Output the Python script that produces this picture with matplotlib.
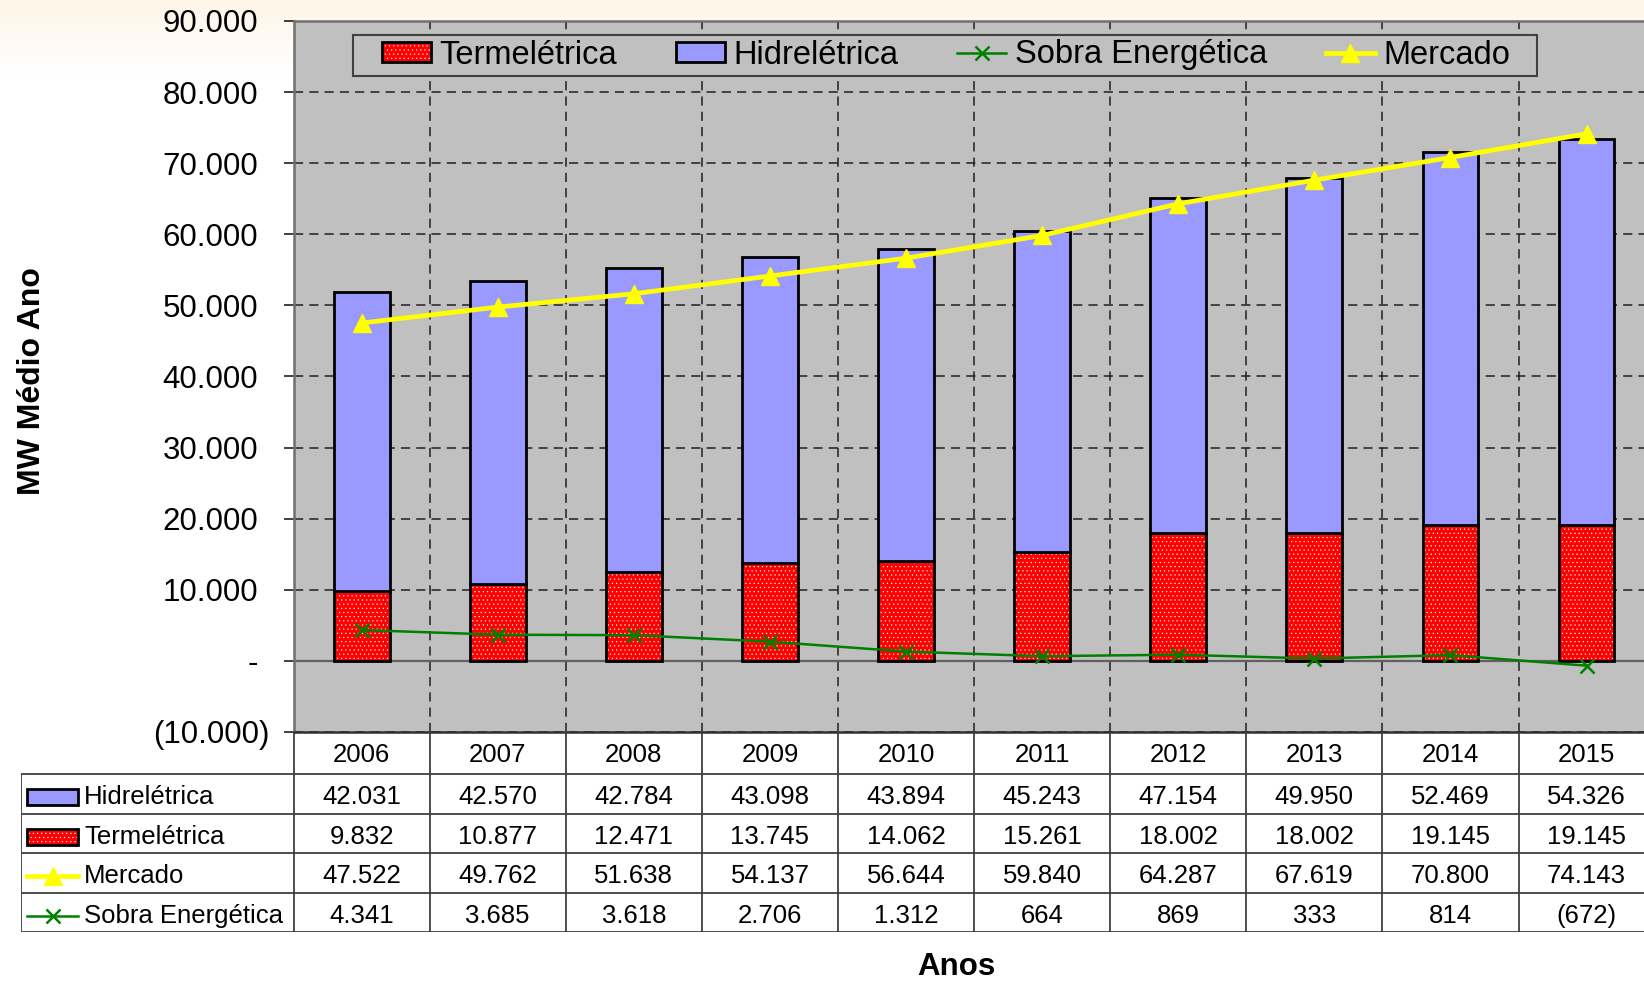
import numpy as np
import matplotlib
matplotlib.use("Agg")
import matplotlib.pyplot as plt
from matplotlib.patches import Patch, Rectangle
from matplotlib.lines import Line2D
from matplotlib.legend_handler import HandlerTuple
import matplotlib.transforms as mtransforms

plt.rcParams['font.family'] = ['Liberation Sans', 'DejaVu Sans']
plt.rcParams['hatch.linewidth'] = 0.35

# ---------------- data ----------------
years = ['2006', '2007', '2008', '2009', '2010', '2011', '2012', '2013', '2014', '2015']
hidreletrica = [42031, 42570, 42784, 43098, 43894, 45243, 47154, 49950, 52469, 54326]
termeletrica = [9832, 10877, 12471, 13745, 14062, 15261, 18002, 18002, 19145, 19145]
mercado = [47522, 49762, 51638, 54137, 56644, 59840, 64287, 67619, 70800, 74143]
sobra = [4341, 3685, 3618, 2706, 1312, 664, 869, 333, 814, -672]
yticks = [-10000, 0, 10000, 20000, 30000, 40000, 50000, 60000, 70000, 80000, 90000]

C_HID = '#9999FF'
C_TER = '#FF0000'
C_MER = '#FFFF00'
C_SOB = '#008000'
C_BG = '#C0C0C0'
C_LINE = '#404040'
HATCH = '....'


def fmt(v):
    if v == 0:
        return '-'
    s = f"{abs(v):,}".replace(',', '.')
    return f"({s})" if v < 0 else s


W, H = 1644, 984
fig = plt.figure(figsize=(W / 100, H / 100), dpi=100)
fig.patch.set_facecolor('white')

# background gradient (cream at top fading to white)
bgax = fig.add_axes([0, 0, 1, 1], zorder=-10)
rows = np.arange(H)
t = np.clip(rows / 75.0, 0, 1)[:, None]
top = np.array([254, 245, 232]) / 255.0
grad = top[None, None, :] * (1 - t[..., None]) + np.ones(3)[None, None, :] * t[..., None]
grad = np.repeat(grad, 4, axis=1)
bgax.imshow(grad, aspect='auto', extent=[0, 1, 0, 1], origin='upper')
bgax.axis('off')

# ---------------- main axes ----------------
px_left, px_right, px_top, px_bot = 293.6, 1654.6, 21.0, 732.0
ax = fig.add_axes([px_left / W, 1 - px_bot / H, (px_right - px_left) / W, (px_bot - px_top) / H])
ax.set_facecolor(C_BG)
x = np.arange(len(years))
ax.set_xlim(-0.5, len(years) - 0.5)
ax.set_ylim(-10000, 90000)

# grid
ax.set_xticks([])
ax.set_xticks(np.arange(-0.5, len(years), 1.0), minor=True)
ax.tick_params(axis='x', which='both', length=0, labelbottom=False)
ax.set_yticks(yticks)
ax.set_yticklabels([fmt(v) for v in yticks])
ax.tick_params(axis='y', which='major', length=7, width=1.4, color=C_LINE,
               labelsize=22.5, pad=18.5, direction='out')
ax.grid(True, axis='x', which='minor', color='#202020', linestyle=(0, (6, 4)), linewidth=1.1, zorder=0)
ax.grid(True, axis='y', which='major', color='#202020', linestyle=(0, (6, 4)), linewidth=1.1, zorder=0)
ax.set_axisbelow(True)
ax.axhline(0, color='#606060', lw=1.6, zorder=1)
for s in ['left', 'bottom', 'top']:
    ax.spines[s].set_color('#707070')
    ax.spines[s].set_linewidth(1.8)
ax.spines['right'].set_visible(False)
ax.spines['bottom'].set_color('#303030')

bw = 0.41
ax.bar(x, termeletrica, bw, color=C_TER, edgecolor='white', linewidth=0, hatch=HATCH, zorder=2)
ax.bar(x, termeletrica, bw, fill=False, edgecolor='black', linewidth=2.0, zorder=3)
ax.bar(x, hidreletrica, bw, bottom=termeletrica, color=C_HID, edgecolor='black', linewidth=2.0, zorder=3)

l_sob, = ax.plot(x, sobra, color=C_SOB, lw=1.8, marker='x', ms=10, mew=1.8, zorder=5)
l_mer, = ax.plot(x, mercado, color=C_MER, lw=3.4, marker='^', ms=13, zorder=6)

# legend
h_ter = (Patch(facecolor=C_TER, edgecolor='white', linewidth=0, hatch=HATCH),
         Patch(fill=False, edgecolor='black', linewidth=2.0))
h_hid = Patch(facecolor=C_HID, edgecolor='black', linewidth=2.0)
h_sob = Line2D([], [], color=C_SOB, lw=1.8, marker='x', ms=10, mew=1.8)
h_mer = Line2D([], [], color=C_MER, lw=3.4, marker='^', ms=13)
leg_cx, leg_cy = (354 + 1538) / 2, (35 + 75) / 2
leg = ax.legend([h_ter, h_hid, h_sob, h_mer],
                ['Termelétrica', 'Hidrelétrica', 'Sobra Energética', 'Mercado'],
                handler_map={tuple: HandlerTuple(ndivide=1, pad=0)},
                ncol=4, loc='center', bbox_to_anchor=(leg_cx / W, 1 - leg_cy / H),
                bbox_transform=fig.transFigure, frameon=False, fontsize=23.5,
                handlelength=1.5, handleheight=0.55, handletextpad=0.26,
                columnspacing=1.8, borderaxespad=0, borderpad=0)
leg.set_zorder(8)

# ---------------- data table ----------------
tab_left = px_left - 2 * (px_right - px_left) / len(years)
tab_bot = 932.4
tab = fig.add_axes([tab_left / W, 1 - tab_bot / H, (px_right - tab_left) / W, (tab_bot - px_bot) / H])
tab.set_xlim(-2.5, len(years) - 0.5)
tab.set_ylim(tab_bot, px_bot)
tab.axis('off')
tab.patch.set_alpha(0)

row_edges = [px_bot, 774.0, 813.6, 853.2, 892.8, 932.4]
lc = dict(color=C_LINE, lw=1.3, solid_capstyle='butt')
for xb in np.arange(-0.5, len(years) - 0.5, 1.0):
    tab.plot([xb, xb], [row_edges[0], row_edges[-1]], **lc)
tab.plot([-2.5, -2.5], [row_edges[1], row_edges[-1]], **lc)
for yb in row_edges[1:]:
    tab.plot([-2.5, len(years) - 0.5], [yb, yb], **lc)

fs_t = 18.5
for i, yr in enumerate(years):
    tab.text(i, (row_edges[0] + row_edges[1]) / 2 + 2, yr, ha='center', va='center', fontsize=fs_t)

series_rows = [('Hidrelétrica', hidreletrica), ('Termelétrica', termeletrica),
               ('Mercado', mercado), ('Sobra Energética', sobra)]
r_y = [(row_edges[k + 1] + row_edges[k + 2]) / 2 + 3.5 for k in range(4)]
for r, (name, vals) in enumerate(series_rows):
    yc = r_y[r]
    for i, v in enumerate(vals):
        tab.text(i, yc, fmt(v), ha='center', va='center', fontsize=fs_t)
    tab.text(-2.04, yc, name, ha='left', va='center', fontsize=fs_t)

# row legend keys
kx0, kx1 = -2.5 + 5.3 / 136.1, -2.5 + 57.0 / 136.1
tab.add_patch(Rectangle((kx0, r_y[0] - 8), kx1 - kx0, 16, facecolor=C_HID, edgecolor='black', lw=2.0))
tab.add_patch(Rectangle((kx0, r_y[1] - 8), kx1 - kx0, 16, facecolor=C_TER, edgecolor='white', lw=0, hatch=HATCH))
tab.add_patch(Rectangle((kx0, r_y[1] - 8), kx1 - kx0, 16, fill=False, edgecolor='black', lw=2.0))
tab.plot([kx0, kx1], [r_y[2], r_y[2]], color=C_MER, lw=3.4)
tab.plot([(kx0 + kx1) / 2], [r_y[2]], color=C_MER, marker='^', ms=13, ls='none')
tab.plot([kx0, kx1], [r_y[3], r_y[3]], color=C_SOB, lw=1.8)
tab.plot([(kx0 + kx1) / 2], [r_y[3]], color=C_SOB, marker='x', ms=10, mew=1.8, ls='none')

# axis titles
fig.text(32 / W, 1 - 381 / H, 'MW Médio Ano', rotation=90, ha='center', va='center',
         fontsize=23, fontweight='bold')
fig.text(956 / W, 1 - 967 / H, 'Anos', ha='center', va='center', fontsize=22.5, fontweight='bold')

# shift negative tick label to keep accounting alignment
fig.canvas.draw()
neg_lab = ax.get_yticklabels()[0]
neg_lab.set_transform(neg_lab.get_transform() + mtransforms.ScaledTranslation(0.11, 0, fig.dpi_scale_trans))

# legend frame
bb = leg.get_window_extent()
frame = Rectangle((bb.x0 - 29, H - 75.5), bb.width + 56, 41, transform=None,
                  facecolor=C_BG, edgecolor=C_LINE, lw=1.5, zorder=7, clip_on=False)
ax.add_artist(frame)

fig.savefig('out.png', dpi=100)
